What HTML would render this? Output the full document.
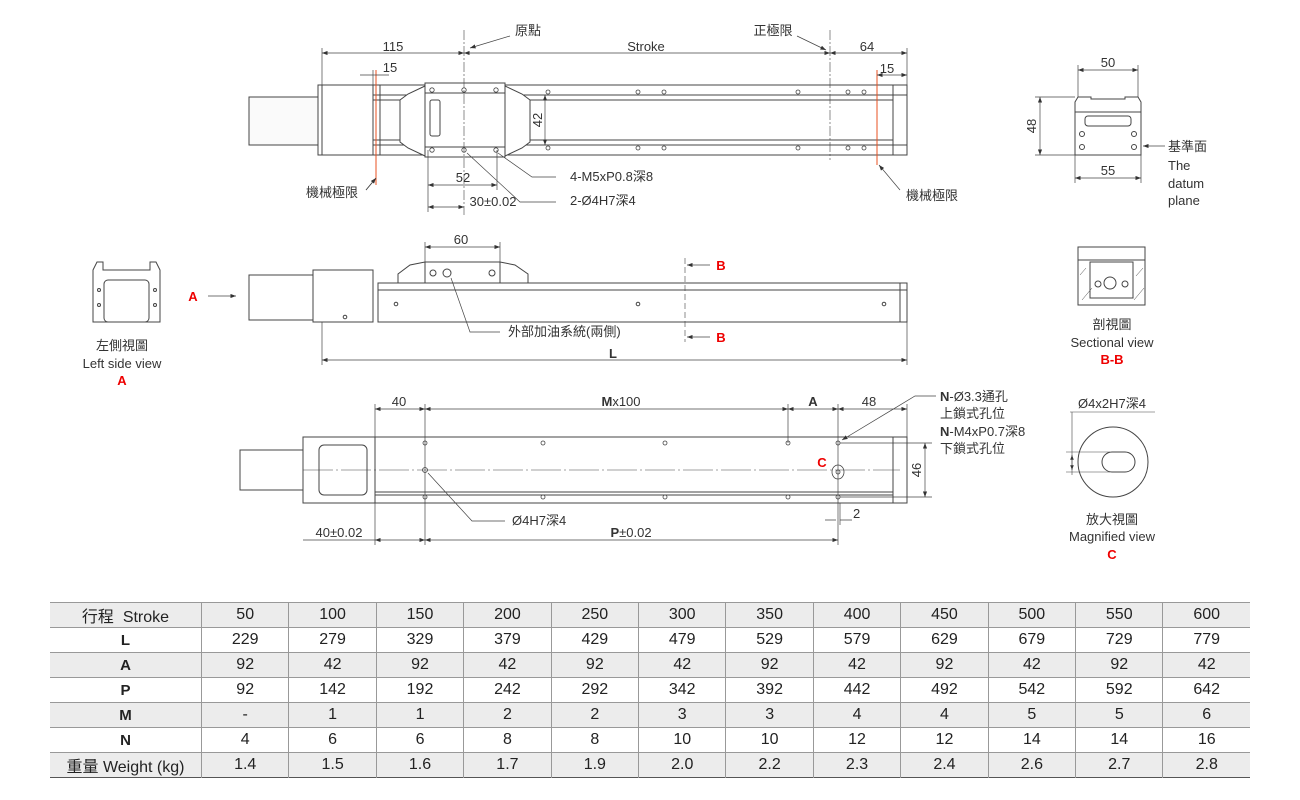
<!DOCTYPE html>
<html><head><meta charset="utf-8"><style>
body{margin:0;background:#fff;width:1300px;height:800px;overflow:hidden;font-family:"Liberation Sans","Noto Sans CJK TC",sans-serif}
svg{position:absolute;left:0;top:0}
table{position:absolute;left:50px;top:602px;border-collapse:collapse;width:1200px;font-size:16px;color:#222}
td{height:24px;border-right:1px solid #999;border-top:1px solid #999;text-align:center;padding:0;width:87px}
td:first-child{width:152px;font-weight:bold;font-size:15px}
tr:first-child td,tr:last-child td{font-weight:normal}
tr:first-child td:first-child,tr:last-child td:first-child{font-weight:normal;font-size:16px}
td:last-child{border-right:none}
tr.g td{background:#ececec}
table{border-top:1.5px solid #555;border-bottom:1.5px solid #555}
</style></head><body>
<svg width="1300" height="600" viewBox="0 0 1300 600" font-family="Liberation Sans, Noto Sans CJK TC, sans-serif" font-size="13" fill="#333">
<defs><marker id="a" markerWidth="8" markerHeight="6" refX="8" refY="3" orient="auto-start-reverse"><path d="M0,0L8,3L0,6z" fill="#333"/></marker></defs>
<g stroke="#444" fill="none" stroke-width="1">
<!-- TOP VIEW -->
<rect x="249" y="97" width="69" height="48" fill="#fafafa"/>
<rect x="318" y="85" width="55" height="70"/>
<line x1="322" y1="85" x2="322" y2="155"/>
<rect x="373" y="85" width="534" height="70"/>
<line x1="373" y1="95" x2="907" y2="95"/><line x1="373" y1="100" x2="893" y2="100"/>
<line x1="373" y1="140" x2="893" y2="140"/><line x1="373" y1="145" x2="907" y2="145"/>
<line x1="893" y1="85" x2="893" y2="155"/><line x1="380" y1="85" x2="380" y2="155"/>
<path d="M425,86 L408,94 L400,100 L400,142 L408,148 L425,156 M505,86 L522,94 L530,100 L530,142 L522,148 L505,156" fill="#fff"/>
<rect x="425" y="83" width="80" height="74" fill="#fff"/>
<line x1="425" y1="93" x2="505" y2="93"/><line x1="425" y1="147" x2="505" y2="147"/>
<rect x="430" y="100" width="10" height="36" rx="2"/>
<line x1="464" y1="30" x2="464" y2="215" stroke-dasharray="10,2,2,2" stroke-width=".6"/>
<line x1="830" y1="30" x2="830" y2="160" stroke-dasharray="10,2,2,2" stroke-width=".6"/>
<line x1="376" y1="70" x2="376" y2="185" stroke="#e85020"/>
<line x1="877" y1="70" x2="877" y2="165" stroke="#e85020"/>
<g stroke-width=".8"><circle cx="432" cy="90" r="2.2"/><circle cx="464" cy="90" r="2.2"/><circle cx="496" cy="90" r="2.2"/><circle cx="432" cy="150" r="2.2"/><circle cx="464" cy="150" r="2.2"/><circle cx="496" cy="150" r="2.2"/>
<circle cx="548" cy="92" r="2"/><circle cx="638" cy="92" r="2"/><circle cx="664" cy="92" r="2"/><circle cx="798" cy="92" r="2"/><circle cx="848" cy="92" r="2"/><circle cx="864" cy="92" r="2"/>
<circle cx="548" cy="148" r="2"/><circle cx="638" cy="148" r="2"/><circle cx="664" cy="148" r="2"/><circle cx="798" cy="148" r="2"/><circle cx="848" cy="148" r="2"/><circle cx="864" cy="148" r="2"/></g>
<g stroke-width=".7">
<line x1="322" y1="53" x2="464" y2="53" marker-start="url(#a)" marker-end="url(#a)"/>
<line x1="464" y1="53" x2="830" y2="53" marker-start="url(#a)" marker-end="url(#a)"/>
<line x1="830" y1="53" x2="907" y2="53" marker-start="url(#a)" marker-end="url(#a)"/>
<line x1="322" y1="48" x2="322" y2="85"/><line x1="907" y1="48" x2="907" y2="85"/>
<line x1="373" y1="75" x2="376" y2="75"/><line x1="373" y1="70" x2="373" y2="85"/><path d="M360,75h13M389,75h-13"/>
<line x1="877" y1="75" x2="907" y2="75" marker-start="url(#a)" marker-end="url(#a)"/>
<line x1="545" y1="95" x2="545" y2="145" marker-start="url(#a)" marker-end="url(#a)"/>
<line x1="428" y1="185" x2="497" y2="185" marker-start="url(#a)" marker-end="url(#a)"/>
<line x1="428" y1="207" x2="464" y2="207" marker-start="url(#a)" marker-end="url(#a)"/>
<line x1="428" y1="150" x2="428" y2="212"/><line x1="497" y1="150" x2="497" y2="190"/>
<path d="M467,153 L520,202 L556,202"/><path d="M498,153 L532,177 L556,177"/>
<path d="M510,36 L470,48" marker-end="url(#a)"/><path d="M797,36 L826,50" marker-end="url(#a)"/>
<path d="M366,190 L376,178"/><path d="M366,190 L376,178" marker-end="url(#a)"/>
<path d="M900,190 L879,165" marker-end="url(#a)"/>
</g>
<!-- SIDE VIEW -->
<rect x="249" y="275" width="64" height="45"/>
<rect x="313" y="270" width="60" height="52"/>
<rect x="378" y="283" width="529" height="39"/>
<line x1="378" y1="290" x2="907" y2="290"/><line x1="900" y1="283" x2="900" y2="322"/>
<path d="M398,283 L398,274 L410,265 L425,262 L500,262 L515,265 L528,274 L528,283 Z"/>
<line x1="425" y1="262" x2="425" y2="283"/><line x1="500" y1="262" x2="500" y2="283"/>
<circle cx="433" cy="273" r="3"/><circle cx="447" cy="273" r="4"/><circle cx="492" cy="273" r="3"/>
<circle cx="396" cy="304" r="1.8"/><circle cx="638" cy="304" r="1.8"/><circle cx="884" cy="304" r="1.8"/><circle cx="345" cy="317" r="1.8"/>
<line x1="685" y1="258" x2="685" y2="342" stroke-dasharray="6,3" stroke-width=".6"/>
<g stroke-width=".7">
<line x1="425" y1="247" x2="500" y2="247" marker-start="url(#a)" marker-end="url(#a)"/>
<line x1="425" y1="242" x2="425" y2="262"/><line x1="500" y1="242" x2="500" y2="262"/>
<line x1="322" y1="360" x2="907" y2="360" marker-start="url(#a)" marker-end="url(#a)"/>
<line x1="322" y1="322" x2="322" y2="365"/><line x1="907" y1="322" x2="907" y2="365"/>
<path d="M451,278 L470,332 L500,332"/>
<line x1="208" y1="296" x2="236" y2="296" marker-end="url(#a)"/>
<line x1="710" y1="265" x2="687" y2="265" marker-end="url(#a)"/>
<line x1="710" y1="337" x2="687" y2="337" marker-end="url(#a)"/>
</g>
<!-- LEFT SIDE VIEW -->
<path d="M93,322 L93,270 L97,262 L103,262 L103,270 L150,270 L150,262 L156,262 L160,270 L160,322 Z"/>
<rect x="104" y="280" width="45" height="42" rx="4"/>
<circle cx="99" cy="290" r="1.5"/><circle cx="99" cy="305" r="1.5"/><circle cx="155" cy="290" r="1.5"/><circle cx="155" cy="305" r="1.5"/>
<!-- BOTTOM VIEW -->
<rect x="240" y="450" width="63" height="40"/>
<rect x="303" y="437" width="72" height="66"/>
<rect x="319" y="445" width="48" height="50" rx="5"/>
<rect x="375" y="437" width="532" height="66"/>
<line x1="375" y1="492" x2="893" y2="492"/><line x1="375" y1="495" x2="893" y2="495"/>
<line x1="893" y1="437" x2="893" y2="503"/>
<line x1="303" y1="470" x2="900" y2="470" stroke-dasharray="30,3,2,3" stroke-width=".5"/>
<g stroke-width=".8"><circle cx="425" cy="443" r="2"/><circle cx="543" cy="443" r="2"/><circle cx="665" cy="443" r="2"/><circle cx="788" cy="443" r="2"/><circle cx="838" cy="443" r="2"/>
<circle cx="425" cy="497" r="2"/><circle cx="543" cy="497" r="2"/><circle cx="665" cy="497" r="2"/><circle cx="788" cy="497" r="2"/><circle cx="838" cy="497" r="2"/>
<circle cx="425" cy="470" r="2.5"/><ellipse cx="838" cy="472" rx="6" ry="7"/><circle cx="838" cy="472" r="2"/></g>
<g stroke-width=".7">
<line x1="375" y1="409" x2="425" y2="409" marker-start="url(#a)" marker-end="url(#a)"/>
<line x1="425" y1="409" x2="788" y2="409" marker-start="url(#a)" marker-end="url(#a)"/>
<line x1="788" y1="409" x2="838" y2="409" marker-start="url(#a)" marker-end="url(#a)"/>
<line x1="838" y1="409" x2="907" y2="409" marker-start="url(#a)" marker-end="url(#a)"/>
<line x1="375" y1="404" x2="375" y2="437"/><line x1="425" y1="404" x2="425" y2="545"/><line x1="788" y1="404" x2="788" y2="443"/><line x1="838" y1="404" x2="838" y2="545"/><line x1="907" y1="404" x2="907" y2="437"/>
<line x1="375" y1="503" x2="375" y2="545"/>
<line x1="925" y1="443" x2="925" y2="497" marker-start="url(#a)" marker-end="url(#a)"/>
<line x1="840" y1="443" x2="932" y2="443"/><line x1="840" y1="497" x2="932" y2="497"/>
<line x1="303" y1="540" x2="375" y2="540"/>
<line x1="375" y1="540" x2="425" y2="540" marker-start="url(#a)" marker-end="url(#a)"/>
<line x1="425" y1="540" x2="838" y2="540" marker-start="url(#a)" marker-end="url(#a)"/>
<path d="M825,520h11M852,520h-12" /><line x1="840" y1="503" x2="840" y2="525"/>
<path d="M428,473 L472,521 L505,521"/>
<path d="M936,396 L915,396 L842,440" marker-end="url(#a)"/>
</g>
<!-- END VIEW -->
<path d="M1075,155 L1075,102 L1078,97 L1091,97 L1091,99 L1125,99 L1125,97 L1138,97 L1141,102 L1141,155 Z"/>
<line x1="1075" y1="112" x2="1141" y2="112"/>
<rect x="1085" y="116" width="46" height="10" rx="3"/>
<circle cx="1082" cy="134" r="2.5"/><circle cx="1134" cy="134" r="2.5"/><circle cx="1082" cy="147" r="2.5"/><circle cx="1134" cy="147" r="2.5"/>
<g stroke-width=".7">
<line x1="1078" y1="70" x2="1138" y2="70" marker-start="url(#a)" marker-end="url(#a)"/>
<line x1="1078" y1="65" x2="1078" y2="97"/><line x1="1138" y1="65" x2="1138" y2="97"/>
<line x1="1075" y1="178" x2="1141" y2="178" marker-start="url(#a)" marker-end="url(#a)"/>
<line x1="1075" y1="155" x2="1075" y2="183"/><line x1="1141" y1="155" x2="1141" y2="183"/>
<line x1="1040" y1="97" x2="1040" y2="155" marker-start="url(#a)" marker-end="url(#a)"/>
<line x1="1035" y1="97" x2="1075" y2="97"/><line x1="1035" y1="155" x2="1075" y2="155"/>
<line x1="1165" y1="146" x2="1143" y2="146" marker-end="url(#a)"/>
</g>
<!-- SECTION -->
<rect x="1078" y="247" width="67" height="58"/>
<line x1="1078" y1="260" x2="1145" y2="260"/>
<rect x="1090" y="262" width="43" height="36"/>
<circle cx="1110" cy="283" r="6"/><circle cx="1098" cy="284" r="3"/><circle cx="1125" cy="284" r="3"/>
<path d="M1082,300 L1092,288 M1134,300 L1144,288 M1080,275 L1086,268 M1136,276 L1143,268" stroke-width=".5"/>
<!-- MAGNIFIED -->
<circle cx="1113" cy="462" r="35"/>
<rect x="1102" y="452" width="33" height="20" rx="10"/>
<g stroke-width=".6"><line x1="1070" y1="412" x2="1155" y2="412"/><line x1="1072" y1="412" x2="1072" y2="475"/>
<line x1="1066" y1="452" x2="1110" y2="452"/><line x1="1066" y1="472" x2="1110" y2="472"/>
<line x1="1072" y1="455" x2="1072" y2="470" marker-start="url(#a)" marker-end="url(#a)"/></g>
</g>
<g font-size="13">
<text x="528" y="35" text-anchor="middle">原點</text>
<text x="773" y="35" text-anchor="middle">正極限</text>
<text x="393" y="51" text-anchor="middle">115</text>
<text x="646" y="51" text-anchor="middle">Stroke</text>
<text x="867" y="51" text-anchor="middle">64</text>
<text x="390" y="72" text-anchor="middle">15</text>
<text x="887" y="73" text-anchor="middle">15</text>
<text transform="translate(542,120) rotate(-90)" text-anchor="middle">42</text>
<text x="463" y="182" text-anchor="middle">52</text>
<text x="493" y="206" text-anchor="middle">30±0.02</text>
<text x="570" y="181">4-M5xP0.8深8</text>
<text x="570" y="205">2-Ø4H7深4</text>
<text x="332" y="197" text-anchor="middle">機械極限</text>
<text x="932" y="200" text-anchor="middle">機械極限</text>
<text x="461" y="244" text-anchor="middle">60</text>
<text x="508" y="336">外部加油系統(兩側)</text>
<text x="613" y="358" text-anchor="middle" font-weight="bold">L</text>
<text x="122" y="350" text-anchor="middle">左側視圖</text>
<text x="122" y="368" text-anchor="middle">Left side view</text>
<text x="399" y="406" text-anchor="middle">40</text>
<text x="621" y="406" text-anchor="middle"><tspan font-weight="bold">M</tspan>x100</text>
<text x="813" y="406" text-anchor="middle" font-weight="bold">A</text>
<text x="869" y="406" text-anchor="middle">48</text>
<text x="940" y="401"><tspan font-weight="bold">N</tspan>-Ø3.3通孔</text>
<text x="940" y="418">上鎖式孔位</text>
<text x="940" y="436"><tspan font-weight="bold">N</tspan>-M4xP0.7深8</text>
<text x="940" y="453">下鎖式孔位</text>
<text transform="translate(921,470) rotate(-90)" text-anchor="middle">46</text>
<text x="853" y="518">2</text>
<text x="339" y="537" text-anchor="middle">40±0.02</text>
<text x="631" y="537" text-anchor="middle"><tspan font-weight="bold">P</tspan>±0.02</text>
<text x="512" y="525">Ø4H7深4</text>
<text x="1108" y="67" text-anchor="middle">50</text>
<text x="1108" y="175" text-anchor="middle">55</text>
<text transform="translate(1036,126) rotate(-90)" text-anchor="middle">48</text>
<text x="1168" y="151">基準面</text>
<text x="1168" y="170">The</text>
<text x="1168" y="188">datum</text>
<text x="1168" y="205">plane</text>
<text x="1112" y="329" text-anchor="middle">剖視圖</text>
<text x="1112" y="347" text-anchor="middle">Sectional view</text>
<text x="1112" y="408" text-anchor="middle">Ø4x2H7深4</text>
<text x="1112" y="524" text-anchor="middle">放大視圖</text>
<text x="1112" y="541" text-anchor="middle">Magnified view</text>
</g>
<g fill="#e00" font-weight="bold" font-size="13">
<text x="122" y="385" text-anchor="middle">A</text>
<text x="193" y="301" text-anchor="middle">A</text>
<text x="721" y="270" text-anchor="middle">B</text>
<text x="721" y="342" text-anchor="middle">B</text>
<text x="1112" y="364" text-anchor="middle">B-B</text>
<text x="822" y="467" text-anchor="middle">C</text>
<text x="1112" y="559" text-anchor="middle">C</text>
</g>
</svg>
<table>
<tr class="g"><td>行程&nbsp; Stroke</td><td>50</td><td>100</td><td>150</td><td>200</td><td>250</td><td>300</td><td>350</td><td>400</td><td>450</td><td>500</td><td>550</td><td>600</td></tr>
<tr><td>L</td><td>229</td><td>279</td><td>329</td><td>379</td><td>429</td><td>479</td><td>529</td><td>579</td><td>629</td><td>679</td><td>729</td><td>779</td></tr>
<tr class="g"><td>A</td><td>92</td><td>42</td><td>92</td><td>42</td><td>92</td><td>42</td><td>92</td><td>42</td><td>92</td><td>42</td><td>92</td><td>42</td></tr>
<tr><td>P</td><td>92</td><td>142</td><td>192</td><td>242</td><td>292</td><td>342</td><td>392</td><td>442</td><td>492</td><td>542</td><td>592</td><td>642</td></tr>
<tr class="g"><td>M</td><td>-</td><td>1</td><td>1</td><td>2</td><td>2</td><td>3</td><td>3</td><td>4</td><td>4</td><td>5</td><td>5</td><td>6</td></tr>
<tr><td>N</td><td>4</td><td>6</td><td>6</td><td>8</td><td>8</td><td>10</td><td>10</td><td>12</td><td>12</td><td>14</td><td>14</td><td>16</td></tr>
<tr class="g"><td>重量 Weight (kg)</td><td>1.4</td><td>1.5</td><td>1.6</td><td>1.7</td><td>1.9</td><td>2.0</td><td>2.2</td><td>2.3</td><td>2.4</td><td>2.6</td><td>2.7</td><td>2.8</td></tr>
</table>
</body></html>
